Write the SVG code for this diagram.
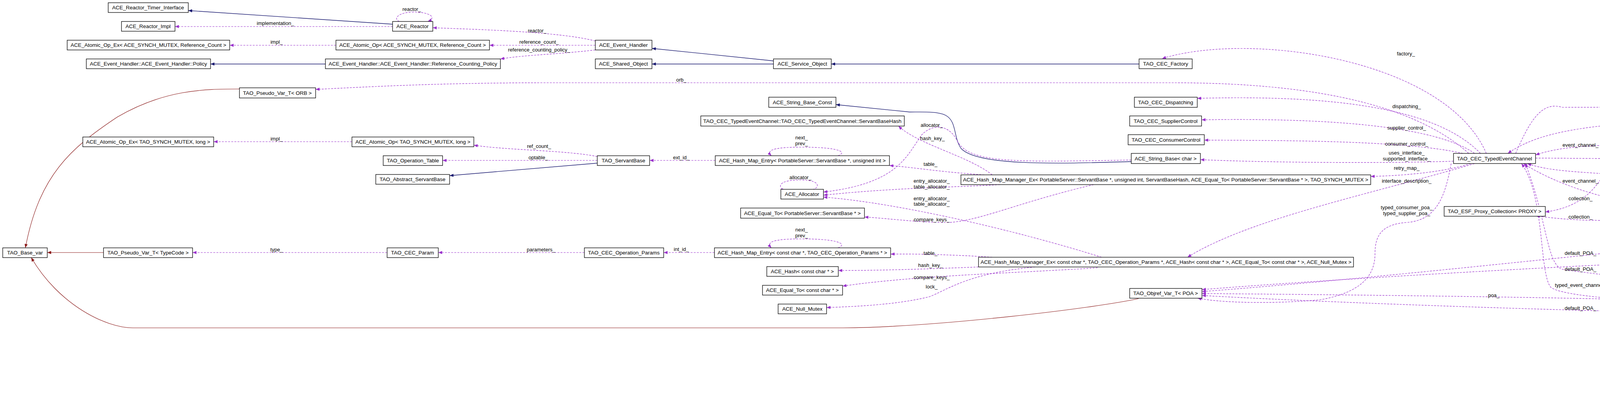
<svg xmlns="http://www.w3.org/2000/svg" width="5549" height="1012" viewBox="0 0 5549 1012">
<style>
.n rect{fill:#fff;stroke:#000;stroke-width:1.3}
.n text,.l{font-family:"Liberation Sans",Arial,sans-serif;font-size:13.5px;fill:#000}
.n text{text-anchor:middle}
.l{text-anchor:middle;font-size:13px}
.u{fill:none;stroke:#9a32cd;stroke-width:1.2;stroke-dasharray:5,3;marker-end:url(#mu)}
.i{fill:none;stroke:#191970;stroke-width:1.3;marker-end:url(#mi)}
.t{fill:none;stroke:#8b1a1a;stroke-width:1.2;marker-end:url(#mt)}
</style>
<defs>
<marker id="mu" viewBox="0 0 10 10" refX="10" refY="5" markerWidth="10" markerHeight="10" markerUnits="userSpaceOnUse" orient="auto"><path d="M0,1L10,5L0,9z" fill="#9a32cd"/></marker>
<marker id="mi" viewBox="0 0 10 10" refX="10" refY="5" markerWidth="10" markerHeight="10" markerUnits="userSpaceOnUse" orient="auto"><path d="M0,1L10,5L0,9z" fill="#191970"/></marker>
<marker id="mt" viewBox="0 0 10 10" refX="10" refY="5" markerWidth="10" markerHeight="10" markerUnits="userSpaceOnUse" orient="auto"><path d="M0,1L10,5L0,9z" fill="#8b1a1a"/></marker>
</defs>
<rect width="5549" height="1012" fill="#fff"/>
<g id="edges">
<path class="i" d="M1005,62L482,27"/>
<path class="i" d="M833,164L539,164"/>
<path class="i" d="M1980,156L1669,124"/>
<path class="i" d="M1980,164L1669,164"/>
<path class="i" d="M2916,164L2128,164"/>
<path class="i" d="M1529,418L1151,450"/>
<path class="i" d="M2896,414C2700,420 2500,425 2460,380C2440,350 2450,310 2420,295C2400,285 2360,287 2329,287L2140,268"/>
<path class="u" d="M1030,58C1000,50 1020,32 1054,31C1100,30 1120,45 1095,55"/>
<path class="u" d="M1005,68L448,68"/>
<path class="u" d="M1524,105C1430,80 1200,75 1108,71"/>
<path class="u" d="M1524,116L1253,116"/>
<path class="u" d="M1524,128C1420,140 1350,140 1281,151"/>
<path class="u" d="M860,116L588,116"/>
<path class="u" d="M901,363L547,363"/>
<path class="u" d="M1529,401C1450,385 1300,385 1213,372"/>
<path class="u" d="M1529,411L1133,411"/>
<path class="u" d="M991,647L493,647"/>
<path class="u" d="M1496,647L1122,647"/>
<path class="u" d="M1831,411L1663,411"/>
<path class="u" d="M2145,399C2170,390 2150,377 2052,377C1980,377 1960,385 1975,399"/>
<path class="u" d="M2145,635C2170,626 2150,612 2052,612C1980,612 1960,620 1975,635"/>
<path class="u" d="M2080,486C2100,480 2100,461 2049,461C1990,461 1990,480 2010,490"/>
<path class="u" d="M1829,647L1699,647"/>
<path class="t" d="M265,647L121,647"/>
<path class="t" d="M613,228C520,228 420,230 300,300C180,380 100,450 65,635"/>
<path class="t" d="M2915,765C2800,790 2400,838 2159,840L340,840C270,840 150,780 80,660"/>
<path class="u" d="M3760,393C3600,250 3300,212 3000,212L1400,212C1100,212 900,225 808,229"/>
<path class="u" d="M2540,448C2480,400 2350,370 2300,323"/>
<path class="u" d="M2896,410C2600,415 2480,420 2450,360C2430,320 2390,315 2360,345C2320,400 2300,470 2108,492"/>
<path class="u" d="M2520,448C2400,440 2350,430 2277,424"/>
<path class="u" d="M2560,473C2450,480 2300,480 2108,500"/>
<path class="u" d="M2800,473C2600,520 2500,570 2420,570C2350,570 2280,560 2213,556"/>
<path class="u" d="M2820,659C2600,590 2300,520 2108,505"/>
<path class="u" d="M2540,659C2450,653 2350,650 2280,651"/>
<path class="u" d="M2505,684C2350,690 2250,693 2146,693"/>
<path class="u" d="M2810,686C2600,700 2350,705 2157,733"/>
<path class="u" d="M2650,684C2480,700 2430,740 2380,760C2300,780 2200,785 2116,788"/>
<path class="u" d="M3805,393C3700,150 3200,80 2975,150"/>
<path class="u" d="M3790,393C3700,300 3500,240 3065,252"/>
<path class="u" d="M3775,393C3700,340 3500,300 3076,307"/>
<path class="u" d="M3745,393C3600,360 3300,360 3083,359"/>
<path class="u" d="M3721,413C3500,420 3200,415 3073,409"/>
<path class="u" d="M3765,419C3700,440 3600,450 3509,452"/>
<path class="u" d="M3775,419C3500,500 3200,560 3040,659"/>
<path class="u" d="M3715,419C3700,500 3680,565 3600,570C3540,575 3520,600 3520,650C3520,710 3480,750 3380,768C3250,780 3120,775 3066,764"/>
<path class="u" d="M3880,393C3920,300 3950,260 4000,275L5180,272C5280,270 5330,280 5380,307"/>
<path class="u" d="M5312,313C5200,305 5000,303 4500,304C4100,310 3950,330 3860,393"/>
<path class="u" d="M5312,327C5200,335 5050,340 4968,343"/>
<path class="u" d="M4150,372C4050,372 3980,380 3931,397"/>
<path class="u" d="M3931,405C4500,408 4900,420 5100,430C5250,440 5320,450 5380,480"/>
<path class="u" d="M5306,487C5000,485 4500,490 4300,460C4100,440 3980,445 3910,419"/>
<path class="u" d="M5306,500C5200,505 5050,512 4965,516"/>
<path class="u" d="M4205,522C4100,510 3980,470 3900,419"/>
<path class="u" d="M4190,368C4100,375 4130,520 3956,543"/>
<path class="u" d="M4310,541C4200,570 4050,570 3932,553"/>
<path class="u" d="M5400,332C5360,450 5330,600 5280,630C4600,650 3600,700 3077,742"/>
<path class="u" d="M5350,506C5300,520 5220,540 5180,545C4500,600 3700,700 3077,747"/>
<path class="u" d="M4488,776C4000,760 3400,755 3077,752"/>
<path class="u" d="M5292,822C4800,810 4400,800 4250,800C3800,790 3300,770 3077,757"/>
<path class="u" d="M4488,779C4200,775 4000,760 3970,736C3940,700 3955,500 3895,419"/>
<path class="u" d="M5385,811C5330,740 5200,735 4600,730C4300,725 4150,712 4000,690C3960,680 3960,560 3905,419"/>
<path class="u" d="M4763,770C4900,760 5000,765 5200,775C5300,785 5340,795 5370,811"/>
<path class="u" d="M5292,818C5100,800 4900,790 4763,787"/>
<path class="u" d="M5370,836C5300,900 5100,905 4850,905C4750,905 4700,902 4669,900"/>
<path class="u" d="M5385,836C5300,950 5100,990 4689,995"/>
<path class="u" d="M4660,985C4700,978 4690,960 4625,960C4550,960 4530,975 4562,990"/>
</g>
<g id="n1" class="n"><rect x="277" y="7" width="205" height="25"/><text x="379" y="24">ACE_Reactor_Timer_Interface</text></g>
<g id="n2" class="n"><rect x="311" y="55" width="137" height="25"/><text x="379" y="72">ACE_Reactor_Impl</text></g>
<g id="n3" class="n"><rect x="1005" y="55" width="103" height="25"/><text x="1056" y="72">ACE_Reactor</text></g>
<g id="n4" class="n"><rect x="172" y="103" width="416" height="25"/><text x="380" y="120">ACE_Atomic_Op_Ex&lt; ACE_SYNCH_MUTEX, Reference_Count &gt;</text></g>
<g id="n5" class="n"><rect x="860" y="103" width="393" height="25"/><text x="1056" y="120">ACE_Atomic_Op&lt; ACE_SYNCH_MUTEX, Reference_Count &gt;</text></g>
<g id="n6" class="n"><rect x="221" y="151" width="318" height="25"/><text x="380" y="168">ACE_Event_Handler::ACE_Event_Handler::Policy</text></g>
<g id="n7" class="n"><rect x="833" y="151" width="448" height="25"/><text x="1057" y="168">ACE_Event_Handler::ACE_Event_Handler::Reference_Counting_Policy</text></g>
<g id="n8" class="n"><rect x="613" y="225" width="195" height="26"/><text x="710" y="243">TAO_Pseudo_Var_T&lt; ORB &gt;</text></g>
<g id="n9" class="n"><rect x="212" y="351" width="335" height="25"/><text x="379" y="368">ACE_Atomic_Op_Ex&lt; TAO_SYNCH_MUTEX, long &gt;</text></g>
<g id="n10" class="n"><rect x="901" y="351" width="312" height="25"/><text x="1057" y="368">ACE_Atomic_Op&lt; TAO_SYNCH_MUTEX, long &gt;</text></g>
<g id="n11" class="n"><rect x="981" y="399" width="152" height="25"/><text x="1057" y="416">TAO_Operation_Table</text></g>
<g id="n12" class="n"><rect x="962" y="447" width="189" height="25"/><text x="1056" y="464">TAO_Abstract_ServantBase</text></g>
<g id="n13" class="n"><rect x="7" y="635" width="114" height="25"/><text x="64" y="652">TAO_Base_var</text></g>
<g id="n14" class="n"><rect x="265" y="635" width="228" height="25"/><text x="379" y="652">TAO_Pseudo_Var_T&lt; TypeCode &gt;</text></g>
<g id="n15" class="n"><rect x="991" y="635" width="131" height="25"/><text x="1056" y="652">TAO_CEC_Param</text></g>
<g id="n16" class="n"><rect x="1524" y="103" width="145" height="25"/><text x="1596" y="120">ACE_Event_Handler</text></g>
<g id="n17" class="n"><rect x="1524" y="151" width="145" height="25"/><text x="1596" y="168">ACE_Shared_Object</text></g>
<g id="n18" class="n"><rect x="1980" y="151" width="148" height="25"/><text x="2054" y="168">ACE_Service_Object</text></g>
<g id="n19" class="n"><rect x="1968" y="249" width="172" height="26"/><text x="2054" y="267">ACE_String_Base_Const</text></g>
<g id="n20" class="n"><rect x="1794" y="297" width="521" height="26"/><text x="2054" y="315">TAO_CEC_TypedEventChannel::TAO_CEC_TypedEventChannel::ServantBaseHash</text></g>
<g id="n21" class="n"><rect x="1529" y="399" width="134" height="25"/><text x="1596" y="416">TAO_ServantBase</text></g>
<g id="n22" class="n"><rect x="1831" y="399" width="446" height="25"/><text x="2054" y="416">ACE_Hash_Map_Entry&lt; PortableServer::ServantBase *, unsigned int &gt;</text></g>
<g id="n23" class="n"><rect x="1999" y="485" width="109" height="25"/><text x="2053" y="502">ACE_Allocator</text></g>
<g id="n24" class="n"><rect x="2460" y="448" width="1049" height="25"/><text x="2984" y="465">ACE_Hash_Map_Manager_Ex&lt; PortableServer::ServantBase *, unsigned int, ServantBaseHash, ACE_Equal_To&lt; PortableServer::ServantBase * &gt;, TAO_SYNCH_MUTEX &gt;</text></g>
<g id="n25" class="n"><rect x="1896" y="533" width="317" height="26"/><text x="2054" y="551">ACE_Equal_To&lt; PortableServer::ServantBase * &gt;</text></g>
<g id="n26" class="n"><rect x="1496" y="635" width="203" height="25"/><text x="1597" y="652">TAO_CEC_Operation_Params</text></g>
<g id="n27" class="n"><rect x="1829" y="635" width="451" height="25"/><text x="2054" y="652">ACE_Hash_Map_Entry&lt; const char *, TAO_CEC_Operation_Params * &gt;</text></g>
<g id="n28" class="n"><rect x="1963" y="683" width="183" height="25"/><text x="2054" y="700">ACE_Hash&lt; const char * &gt;</text></g>
<g id="n29" class="n"><rect x="1952" y="731" width="205" height="25"/><text x="2054" y="748">ACE_Equal_To&lt; const char * &gt;</text></g>
<g id="n30" class="n"><rect x="1992" y="779" width="124" height="25"/><text x="2054" y="796">ACE_Null_Mutex</text></g>
<g id="n31" class="n"><rect x="2505" y="659" width="960" height="25"/><text x="2985" y="676">ACE_Hash_Map_Manager_Ex&lt; const char *, TAO_CEC_Operation_Params *, ACE_Hash&lt; const char * &gt;, ACE_Equal_To&lt; const char * &gt;, ACE_Null_Mutex &gt;</text></g>
<g id="n32" class="n"><rect x="2916" y="151" width="136" height="25"/><text x="2984" y="168">TAO_CEC_Factory</text></g>
<g id="n33" class="n"><rect x="2904" y="249" width="161" height="26"/><text x="2984" y="267">TAO_CEC_Dispatching</text></g>
<g id="n34" class="n"><rect x="2892" y="297" width="184" height="26"/><text x="2984" y="315">TAO_CEC_SupplierControl</text></g>
<g id="n35" class="n"><rect x="2888" y="345" width="195" height="26"/><text x="2985" y="363">TAO_CEC_ConsumerControl</text></g>
<g id="n36" class="n"><rect x="2896" y="393" width="177" height="26"/><text x="2984" y="411">ACE_String_Base&lt; char &gt;</text></g>
<g id="n37" class="n"><rect x="3721" y="393" width="210" height="26"/><text x="3826" y="411">TAO_CEC_TypedEventChannel</text></g>
<g id="n38" class="n"><rect x="3697" y="529" width="259" height="25"/><text x="3826" y="546">TAO_ESF_Proxy_Collection&lt; PROXY &gt;</text></g>
<g id="n39" class="n"><rect x="2892" y="739" width="185" height="25"/><text x="2984" y="756">TAO_Objref_Var_T&lt; POA &gt;</text></g>
<g id="n40" class="n"><rect x="5312" y="307" width="213" height="25"/><text x="5418" y="324">TAO_CEC_TypedSupplierAdmin</text></g>
<g id="n41" class="n"><rect x="4140" y="343" width="973" height="25"/><text x="4626" y="360">TAO_ESF_Proxy_Admin&lt; TAO_CEC_TypedEventChannel, TAO_CEC_TypedProxyPushConsumer, CosTypedEventChannelAdmin::TypedProxyPushConsumer &gt;</text></g>
<g id="n42" class="n"><rect x="5306" y="480" width="227" height="26"/><text x="5419" y="498">TAO_CEC_TypedConsumerAdmin</text></g>
<g id="n43" class="n"><rect x="4205" y="516" width="841" height="25"/><text x="4625" y="533">TAO_ESF_Proxy_Admin&lt; TAO_CEC_TypedEventChannel, TAO_CEC_ProxyPushSupplier, CosEventChannelAdmin::ProxyPushSupplier &gt;</text></g>
<g id="n44" class="n"><rect x="4488" y="765" width="275" height="26" style="fill:#bfbfbf"/><text x="4625" y="783">TAO_CEC_DynamicImplementationServer</text></g>
<g id="n45" class="n"><rect x="5292" y="811" width="254" height="25"/><text x="5419" y="828">TAO_CEC_TypedProxyPushConsumer</text></g>
<g id="n46" class="n"><rect x="4583" y="881" width="86" height="26"/><text x="4626" y="899">ACE_Lock</text></g>
<g id="n47" class="n"><rect x="4562" y="983" width="127" height="25"/><text x="4625" y="1000">ACE_Time_Value</text></g>
<g id="labels">
<text class="l" x="1054" y="28">reactor_</text>
<text class="l" x="705" y="64">implementation_</text>
<text class="l" x="708" y="112">impl_</text>
<text class="l" x="1375" y="83">reactor_</text>
<text class="l" x="1380" y="112">reference_count_</text>
<text class="l" x="1380" y="132">reference_counting_policy_</text>
<text class="l" x="1744" y="209">orb_</text>
<text class="l" x="708" y="360">impl_</text>
<text class="l" x="1380" y="379">ref_count_</text>
<text class="l" x="1378" y="408">optable_</text>
<text class="l" x="708" y="644">type_</text>
<text class="l" x="1385" y="644">parameters_</text>
<text class="l" x="1744" y="408">ext_id_</text>
<text class="l" x="2052" y="357">next_</text>
<text class="l" x="2052" y="372">prev_</text>
<text class="l" x="2049" y="459">allocator_</text>
<text class="l" x="2385" y="325">allocator_</text>
<text class="l" x="2387" y="359">hash_key_</text>
<text class="l" x="2382" y="425">table_</text>
<text class="l" x="2385" y="468">entry_allocator_</text>
<text class="l" x="2385" y="483">table_allocator_</text>
<text class="l" x="2385" y="513">entry_allocator_</text>
<text class="l" x="2385" y="527">table_allocator_</text>
<text class="l" x="2385" y="567">compare_keys_</text>
<text class="l" x="2052" y="593">next_</text>
<text class="l" x="2052" y="608">prev_</text>
<text class="l" x="1744" y="643">int_id_</text>
<text class="l" x="2382" y="653">table_</text>
<text class="l" x="2382" y="684">hash_key_</text>
<text class="l" x="2385" y="715">compare_keys_</text>
<text class="l" x="2385" y="739">lock_</text>
<text class="l" x="3599" y="142">factory_</text>
<text class="l" x="3601" y="277">dispatching_</text>
<text class="l" x="3601" y="332">supplier_control_</text>
<text class="l" x="3601" y="373">consumer_control_</text>
<text class="l" x="3601" y="396">uses_interface_</text>
<text class="l" x="3601" y="411">supported_interface_</text>
<text class="l" x="3601" y="435">retry_map_</text>
<text class="l" x="3601" y="468">interface_description_</text>
<text class="l" x="4046" y="376">event_channel_</text>
<text class="l" x="4046" y="468">event_channel_</text>
<text class="l" x="3601" y="536">typed_consumer_poa_</text>
<text class="l" x="3601" y="551">typed_supplier_poa_</text>
<text class="l" x="4046" y="513">collection_</text>
<text class="l" x="4046" y="560">collection_</text>
<text class="l" x="4046" y="653">default_POA_</text>
<text class="l" x="4046" y="694">default_POA_</text>
<text class="l" x="4046" y="735">typed_event_channel_</text>
<text class="l" x="3824" y="761">poa_</text>
<text class="l" x="4046" y="794">default_POA_</text>
<text class="l" x="4623" y="272">typed_supplier_admin_</text>
<text class="l" x="4623" y="300">typed_event_channel_</text>
<text class="l" x="5201" y="325">typed_push_admin_</text>
<text class="l" x="4623" y="405">typed_consumer_admin_</text>
<text class="l" x="4623" y="452">typed_event_channel_</text>
<text class="l" x="5201" y="499">typed_push_admin_</text>
<text class="l" x="4623" y="711">typed_event_channel_</text>
<text class="l" x="5201" y="772">typed_pp_consumer_</text>
<text class="l" x="5201" y="805">dsi_impl_</text>
<text class="l" x="5201" y="873">lock_</text>
<text class="l" x="5201" y="909">timeout_</text>
<text class="l" x="4625" y="941">max_time</text>
<text class="l" x="4625" y="956">zero</text>
</g>
</svg>
